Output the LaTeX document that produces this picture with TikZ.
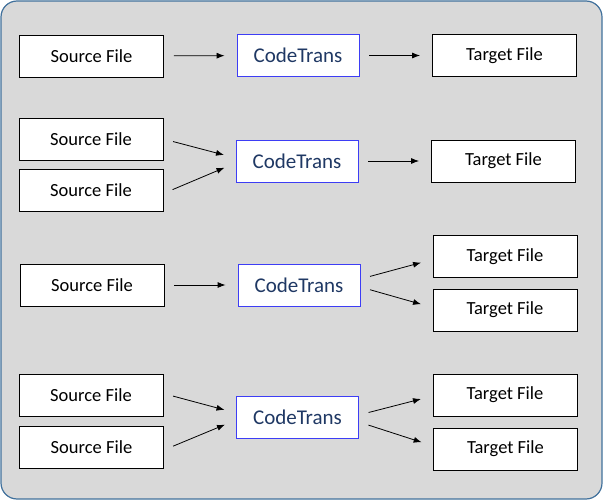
\documentclass[tikz,border=0pt]{standalone}
\usepackage{fontspec}
\setmainfont{Carlito}
\usetikzlibrary{arrows.meta,calc}
\definecolor{bgray}{HTML}{D9D9D9}
\definecolor{frameblue}{HTML}{41719C}
\definecolor{ctblue}{HTML}{3D3DF5}
\definecolor{ctnavy}{HTML}{1F3864}
\tikzset{
  filebox/.style={draw=black, line width=0.8pt, fill=white, minimum width=144pt, minimum height=42pt, inner sep=0pt, font=\fontsize{18.5}{20}\selectfont},
  ctbox/.style={draw=ctblue, line width=0.8pt, fill=white, minimum width=122pt, minimum height=42pt, inner sep=0pt, text=ctnavy, font=\fontsize{21}{23}\selectfont},
  conn/.style={-{Latex[length=8pt,width=6pt]}, line width=0.8pt, black, shorten <=10pt, shorten >=12pt}
}
\begin{document}
\begin{tikzpicture}[x=1pt,y=-1pt]
\useasboundingbox (0,0) rectangle (603,500);
\draw[fill=bgray, draw=frameblue, line width=1.2pt, rounded corners=16pt] (1,1) rectangle (602,499);
% Row 1
\node[filebox] (s1) at (91.5,56) {Source File};
\node[ctbox] (c1) at (298,55.5) {CodeTrans};
\node[filebox] (t1) at (504.5,55.5) {Target File};
\draw[conn] (s1) -- (c1);
\draw[conn] (c1) -- (t1);
% Row 2
\node[filebox] (s2a) at (91,139) {Source File};
\node[filebox] (s2b) at (91,190.5) {Source File};
\node[ctbox] (c2) at (297,161) {CodeTrans};
\node[filebox] (t2) at (503.5,161) {Target File};
\draw[conn] (s2a.east) -- ($(c2.west)+(0,-3)$);
\draw[conn] ($(s2b.east)+(0,3)$) -- ($(c2.west)+(0,2)$);
\draw[conn] (c2) -- (t2);
% Row 3
\node[filebox] (s3) at (92,285) {Source File};
\node[ctbox] (c3) at (299,285) {CodeTrans};
\node[filebox] (t3a) at (505,256.5) {Target File};
\node[filebox] (t3b) at (505,310) {Target File};
\draw[conn] (s3) -- (c3);
\draw[conn] ($(c3.east)+(0,-6)$) -- ($(t3a.west)+(0,3)$);
\draw[conn] ($(c3.east)+(0,2)$) -- ($(t3b.west)+(0,-2.5)$);
% Row 4
\node[filebox] (s4a) at (91,395.5) {Source File};
\node[filebox] (s4b) at (91.5,447.5) {Source File};
\node[ctbox] (c4) at (297.5,417) {CodeTrans};
\node[filebox] (t4a) at (505,395) {Target File};
\node[filebox] (t4b) at (505.5,449) {Target File};
\draw[conn] ($(s4a.east)+(0,-2)$) -- ($(c4.west)+(0,-4)$);
\draw[conn] ($(s4b.east)+(0,2.5)$) -- ($(c4.west)+(0,3)$);
\draw[conn] ($(c4.east)+(0,-2)$) -- ($(t4a.west)+(0,1)$);
\draw[conn] ($(c4.east)+(0,5)$) -- ($(t4b.west)+(0,-3)$);
\end{tikzpicture}
\end{document}
